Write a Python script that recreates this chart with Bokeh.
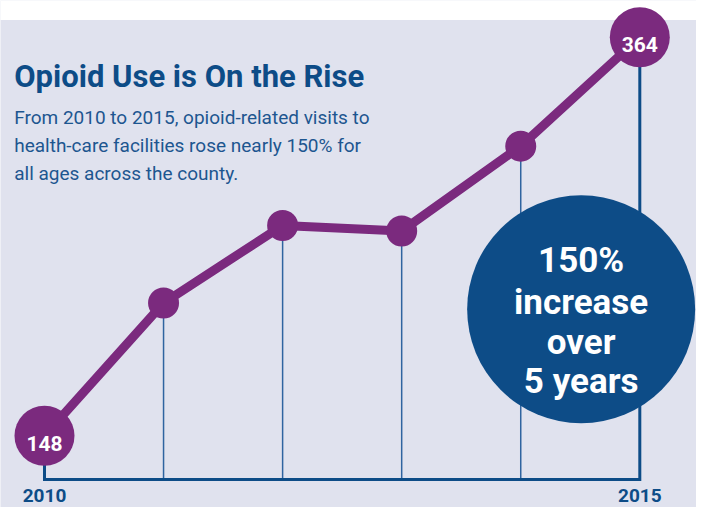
from bokeh.plotting import figure
from bokeh.models import Label, Range1d, ColumnDataSource
from bokeh.embed import file_html
from bokeh.resources import INLINE
from bokeh.core.properties import value

# ---- data ----
years = [2010, 2011, 2012, 2013, 2014, 2015]
visits = [148, 220, 262, 259, 305, 364]
year_labels = ["2010", "2015"]
title_text = "Opioid Use is On the Rise"
subtitle_lines = [
    "From 2010 to 2015, opioid-related visits to",
    "health-care facilities rose nearly 150% for",
    "all ages across the county.",
]
callout_lines = ["150%", "increase", "over", "5 years"]

# ---- style ----
LAV = "#e0e2ee"
PURPLE = "#7b2a7e"
DARK = "#0d4c87"
THIN = "#2f64a0"
FONT = "Roboto"

W, H = 696, 507
RW, RH = 712, 523          # reference layout size
SX, SY = W / RW, H / RH
PX_YEAR = 121.8            # reference px per year
PX_UNIT = 1.903            # reference px per visit unit
x_start = years[0] - 45 / PX_YEAR
x_end = x_start + RW / PX_YEAR
y_start = visits[0] - (RH - 449) / PX_UNIT
y_end = y_start + RH / PX_UNIT


def dx(X):
    return x_start + X / PX_YEAR


def dy(Y):
    return y_start + (RH - Y) / PX_UNIT


base = dy(494)

p = figure(width=W, height=H, x_range=Range1d(x_start, x_end),
           y_range=Range1d(y_start, y_end), output_backend="svg",
           toolbar_location=None, min_border=0, x_axis_location=None,
           y_axis_location=None, background_fill_color=LAV,
           border_fill_color="white", outline_line_color=None)
p.grid.visible = False

# white top strip
p.quad(left=x_start - 1, right=x_end + 1, bottom=dy(20), top=y_end + 20,
       fill_color="white", line_color=None)

# thin drop lines
p.segment(x0=years[1:-1], y0=[base] * 4, x1=years[1:-1], y1=visits[1:-1],
          line_color=THIN, line_width=1.5)
# frame: left, baseline, right
p.line(x=[years[0], years[0], years[-1], years[-1]],
       y=[visits[0], base, base, visits[-1]],
       line_color=DARK, line_width=3, line_join="miter")

# callout circle
cx, cy = dx(594), dy(318.5)
p.scatter(x=[cx], y=[cy], size=228, fill_color=DARK, line_color=None)

# purple trend line + points
p.line(years, visits, line_width=9, line_color=PURPLE)
sizes = [60] + [31] * (len(years) - 2) + [60]
p.scatter(x=years, y=visits, size=sizes, fill_color=PURPLE, line_color=None)

# end value labels
p.text(x=[years[0], years[-1]], y=[visits[0], visits[-1]],
       text=[str(visits[0]), str(visits[-1])], text_color="white",
       text_font=value(FONT), text_font_style="bold", text_font_size="21px",
       text_align="center", text_baseline="alphabetic", y_offset=7.5)

# callout text
src = ColumnDataSource(dict(x=[cx] * 4, y=[cy] * 4, t=callout_lines,
                            off=[-49, -6.3, 33.4, 72.2]))
p.text(x="x", y="y", text="t", y_offset="off", source=src,
       text_color="white", text_font=value(FONT), text_font_style="bold",
       text_font_size="35px", text_align="center", text_baseline="alphabetic")

# title & subtitle
p.add_layout(Label(x=14 * SX, y=(RH - 78) * SY, x_units="screen", y_units="screen",
                   text=title_text, text_font=FONT, text_font_style="bold",
                   text_font_size="31px", text_color=DARK,
                   text_baseline="alphabetic"))
for line, Y in zip(subtitle_lines, [121, 149.5, 178]):
    p.add_layout(Label(x=14 * SX, y=(RH - Y) * SY, x_units="screen", y_units="screen",
                       text=line, text_font=FONT, text_font_size="19px",
                       text_color="#1d5690", text_baseline="alphabetic"))

# year labels
for yr, lab in zip([years[0], years[-1]], year_labels):
    p.add_layout(Label(x=yr, y=6, x_units="data", y_units="screen",
                       text=lab, text_font=FONT, text_font_style="bold",
                       text_font_size="19px", text_color=DARK,
                       text_align="center", text_baseline="bottom"))

open("out.html", "w").write(file_html(p, INLINE))
